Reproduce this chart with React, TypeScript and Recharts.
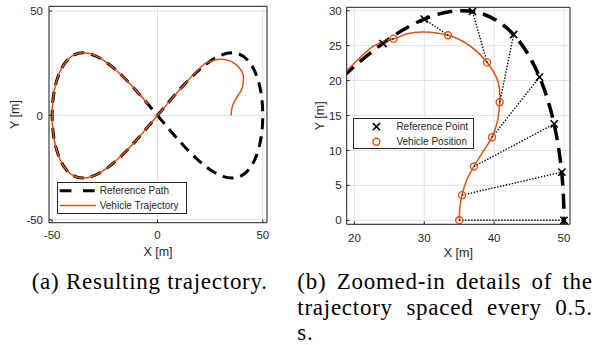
import React from 'react';
import { ComposedChart, Line, Scatter, XAxis, YAxis, CartesianGrid, Legend } from 'recharts';

// ---------- data ----------
// Reference figure-eight path (closed loop)
const refPathX = [0, 12.9, 25.0, 35.4, 43.3, 48.3, 50.0, 48.3, 43.3, 35.4, 25.0, 12.9, 0, -12.9, -25.0, -35.4, -43.3, -48.3, -50.0, -48.3, -43.3, -35.4, -25.0, -12.9, 0];
const refPathY = [0, -15.0, -26.0, -30.0, -26.0, -15.0, 0, 15.0, 26.0, 30.0, 26.0, 15.0, 0, -15.0, -26.0, -30.0, -26.0, -15.0, 0, 15.0, 26.0, 30.0, 26.0, 15.0, 0];

// Vehicle trajectory
const vehPathX = [35.0, 35.1, 35.4, 36.1, 37.1, 38.4, 39.7, 40.5, 40.8, 40.6, 39.0, 36.5, 33.4, 29.9, 27.6, 25.6, 22.7, 18.9, 16.0, 12.9, 6.5, 0.0, -6.5, -12.9, -25.0, -35.4, -43.3, -48.3, -50.0, -48.3, -43.3, -35.4, -25.0, -12.9, -4.6];
const vehPathY = [0.0, 1.8, 3.6, 5.8, 7.7, 9.8, 11.9, 14.3, 16.9, 19.7, 22.6, 25.0, 26.5, 26.95, 26.7, 26.0, 24.9, 21.4, 18.4, 15.0, 7.7, 0.0, -7.7, -15.0, -26.0, -30.0, -26.0, -15.0, 0.0, 15.0, 26.0, 30.0, 26.0, 15.0, 5.5];

// Samples every 0.5 s
const refPointX = [50.0, 49.7, 48.6, 46.5, 42.8, 36.9, 30.0, 24.1];
const refPointY = [0.0, 6.9, 13.8, 20.5, 26.6, 29.9, 28.8, 25.3];
const vehPointX = [35.0, 35.4, 37.1, 39.7, 40.8, 39.0, 33.4, 25.6];
const vehPointY = [0.0, 3.6, 7.7, 11.9, 16.9, 22.6, 26.5, 26.0];

// Ticks
const aTicksX = [-50, 0, 50];
const aTicksY = [-50, 0, 50];
const bTicksX = [20, 30, 40, 50];
const bTicksY = [0, 5, 10, 15, 20, 25, 30];

// Axis ranges
const aDomX: [number, number] = [-51.5, 52.0];
const aDomY: [number, number] = [-51.4, 52.3];
const bDomX: [number, number] = [18.9, 50.86];
const bDomY: [number, number] = [-0.57, 30.49];

// ---------- styles ----------
const FONT = '"Liberation Sans", Arial, Helvetica, sans-serif';
const SERIF = '"Liberation Serif", "Times New Roman", serif';
const AX = '#262626';
const ORANGE = '#D95319';
const GRID = '#e1e1e1';

const pts = (xs: number[], ys: number[]) => xs.map((x, i) => ({ x, y: ys[i] }));
const refPath = pts(refPathX, refPathY);
const vehPath = pts(vehPathX, vehPathY);
const refPoints = pts(refPointX, refPointY);
const vehPoints = pts(vehPointX, vehPointY);
const links = refPoints.map((r, i) => [vehPoints[i], r]);

function XMark(props: any) {
  const { cx, cy } = props;
  if (cx == null || cy == null) return null;
  const s = 3.6;
  return (
    <g>
      <line x1={cx - s} y1={cy - s} x2={cx + s} y2={cy + s} stroke="#000" strokeWidth={1.6} />
      <line x1={cx - s} y1={cy + s} x2={cx + s} y2={cy - s} stroke="#000" strokeWidth={1.6} />
    </g>
  );
}

function OMark(props: any) {
  const { cx, cy } = props;
  if (cx == null || cy == null) return null;
  return <circle cx={cx} cy={cy} r={3.5} fill="none" stroke={ORANGE} strokeWidth={1.4} />;
}

const LegendA = () => (
  <svg width={130} height={32} style={{ display: 'block' }}>
    <rect x={0.5} y={0.5} width={129} height={31} fill="#fff" stroke={AX} strokeWidth={1} />
    <line x1={2.7} x2={39.4} y1={8.7} y2={8.7} stroke="#000" strokeWidth={3} strokeDasharray="11.7 11.6" />
    <text x={42.7} y={8.7} dominantBaseline="central" fontSize={10} fill={AX} fontFamily={FONT}>Reference Path</text>
    <line x1={2.7} x2={39.4} y1={23.4} y2={23.4} stroke={ORANGE} strokeWidth={1.5} />
    <text x={42.7} y={23.4} dominantBaseline="central" fontSize={10} fill={AX} fontFamily={FONT}>Vehicle Trajectory</text>
  </svg>
);

const LegendB = () => (
  <svg width={121} height={31} style={{ display: 'block' }}>
    <rect x={0.5} y={0.5} width={120} height={30} fill="#fff" stroke={AX} strokeWidth={1} />
    <XMark cx={23.4} cy={8.7} />
    <text x={43.4} y={8.7} dominantBaseline="central" fontSize={10} fill={AX} fontFamily={FONT}>Reference Point</text>
    <OMark cx={23.4} cy={23.7} />
    <text x={43.4} y={23.7} dominantBaseline="central" fontSize={10} fill={AX} fontFamily={FONT}>Vehicle Position</text>
  </svg>
);

const tickStyle = { fill: AX, fontSize: 11.5, fontFamily: FONT };
const labelStyle = { fill: AX, fontSize: 12.5, fontFamily: FONT };

const capBase: React.CSSProperties = {
  position: 'absolute',
  fontFamily: SERIF,
  fontSize: 23,
  letterSpacing: '0.74px',
  lineHeight: '23px',
  color: '#000',
};

export default function App() {
  return (
    <div style={{ position: 'absolute', left: 0, top: 0, width: 603, height: 345, background: '#fff', fontFamily: FONT, overflow: 'hidden' }}>
      {/* (a) full trajectory */}
      <div style={{ position: 'absolute', left: 0, top: 0 }}>
        <ComposedChart width={290} height={265} margin={{ top: 5.3, right: 22, bottom: 0, left: 0 }}>
          <CartesianGrid xAxisId="b" yAxisId="l" stroke={GRID} strokeWidth={1} />
          <XAxis xAxisId="b" type="number" dataKey="x" domain={aDomX} ticks={aTicksX} allowDataOverflow interval={0}
            height={42.3} tickSize={-3} tickMargin={11.3} stroke={AX} tick={tickStyle}
            label={{ value: 'X [m]', position: 'insideBottom', offset: 8.8, ...labelStyle }} />
          <XAxis xAxisId="t" orientation="top" type="number" dataKey="x" domain={aDomX} ticks={aTicksX} allowDataOverflow
            height={1} tickSize={-3} tick={false} stroke={AX} />
          <YAxis yAxisId="l" type="number" dataKey="y" domain={aDomY} ticks={aTicksY} allowDataOverflow interval={0}
            width={49} tickSize={-3} tickMargin={9} stroke={AX} tick={tickStyle}
            label={{ value: 'Y [m]', angle: -90, position: 'insideLeft', offset: 15, ...labelStyle, style: { textAnchor: 'middle' } }} />
          <YAxis yAxisId="r" orientation="right" type="number" dataKey="y" domain={aDomY} ticks={aTicksY} allowDataOverflow
            width={1} tickSize={-3} tick={false} stroke={AX} />
          <Line xAxisId="b" yAxisId="l" data={refPath} dataKey="y" type="natural" stroke="#000" strokeWidth={3}
            strokeDasharray="11 7" dot={false} activeDot={false} isAnimationActive={false} />
          <Line xAxisId="b" yAxisId="l" data={vehPath} dataKey="y" type="natural" stroke={ORANGE} strokeWidth={1.5}
            dot={false} activeDot={false} isAnimationActive={false} />
          <Legend layout="horizontal" verticalAlign="middle" align="center" content={() => <LegendA />}
            wrapperStyle={{ left: 57.3, top: 182.3, width: 130, height: 32 }} />
        </ComposedChart>
      </div>

      {/* (b) zoomed-in details */}
      <div style={{ position: 'absolute', left: 290, top: 0 }}>
        <ComposedChart width={313} height={265} margin={{ top: 6.3, right: 32, bottom: 0, left: 0 }}>
          <CartesianGrid xAxisId="b" yAxisId="l" stroke={GRID} strokeWidth={1} />
          <XAxis xAxisId="b" type="number" dataKey="x" domain={bDomX} ticks={bTicksX} allowDataOverflow interval={0}
            height={40.7} tickSize={-3} tickMargin={12.3} stroke={AX} tick={tickStyle}
            label={{ value: 'X [m]', position: 'insideBottom', offset: 7.8, ...labelStyle }} />
          <XAxis xAxisId="t" orientation="top" type="number" dataKey="x" domain={bDomX} ticks={bTicksX} allowDataOverflow
            height={1} tickSize={-3} tick={false} stroke={AX} />
          <YAxis yAxisId="l" type="number" dataKey="y" domain={bDomY} ticks={bTicksY} allowDataOverflow interval={0}
            width={56.7} tickSize={-3} tickMargin={8} stroke={AX} tick={tickStyle}
            label={{ value: 'Y [m]', angle: -90, position: 'insideLeft', offset: 29.3, ...labelStyle, style: { textAnchor: 'middle' } }} />
          <YAxis yAxisId="r" orientation="right" type="number" dataKey="y" domain={bDomY} ticks={bTicksY} allowDataOverflow
            width={1} tickSize={-3} tick={false} stroke={AX} />
          <Line xAxisId="b" yAxisId="l" data={refPath} dataKey="y" type="natural" stroke="#000" strokeWidth={3.5}
            strokeDasharray="15 8" dot={false} activeDot={false} isAnimationActive={false} />
          <Line xAxisId="b" yAxisId="l" data={vehPath} dataKey="y" type="natural" stroke={ORANGE} strokeWidth={1.5}
            dot={false} activeDot={false} isAnimationActive={false} />
          {links.map((seg, i) => (
            <Line key={'lk' + i} xAxisId="b" yAxisId="l" data={seg} dataKey="y" type="linear" stroke="#000" strokeWidth={1.4}
              strokeDasharray="1.4 1.6" dot={false} activeDot={false} isAnimationActive={false} />
          ))}
          <Scatter xAxisId="b" yAxisId="l" data={refPoints} shape={XMark} isAnimationActive={false} />
          <Scatter xAxisId="b" yAxisId="l" data={vehPoints} shape={OMark} isAnimationActive={false} />
          <Legend layout="horizontal" verticalAlign="middle" align="center" content={() => <LegendB />}
            wrapperStyle={{ left: 63.3, top: 118, width: 121, height: 31 }} />
        </ComposedChart>
      </div>

      {/* captions */}
      <div style={{ ...capBase, left: 31.7, top: 270.3, whiteSpace: 'nowrap' }}>(a) Resulting trajectory.</div>
      <div style={{ ...capBase, left: 297.3, top: 270.3, width: 295.5, textAlign: 'justify', textAlignLast: 'justify' }}>(b) Zoomed-in details of the</div>
      <div style={{ ...capBase, left: 297.3, top: 296.0, width: 295.5, textAlign: 'justify', textAlignLast: 'justify' }}>trajectory spaced every 0.5.</div>
      <div style={{ ...capBase, left: 297.3, top: 321.0, whiteSpace: 'nowrap' }}>s.</div>
    </div>
  );
}
